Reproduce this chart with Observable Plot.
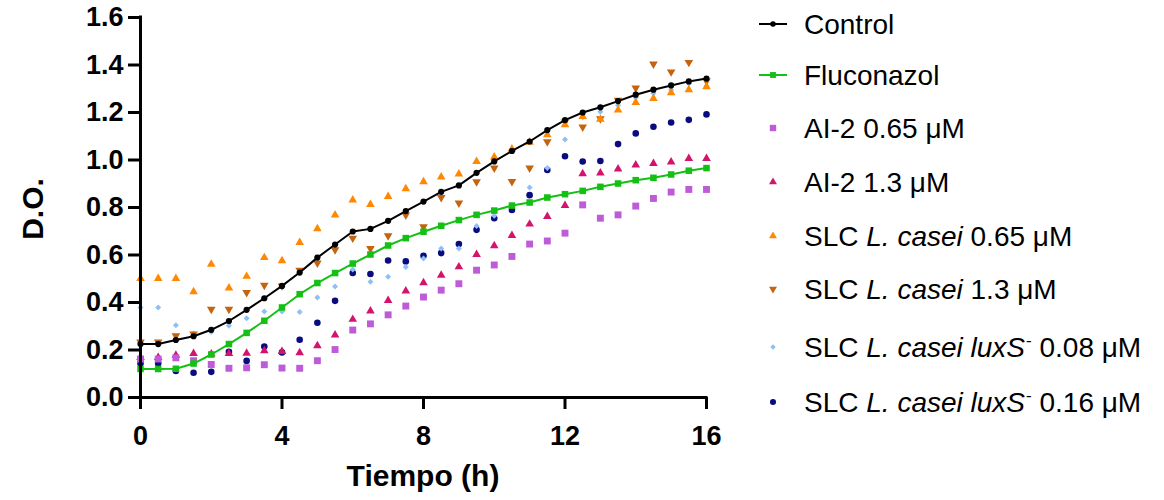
<!DOCTYPE html>
<html><head><meta charset="utf-8">
<script src="https://cdn.jsdelivr.net/npm/d3@7"></script>
<script src="https://cdn.jsdelivr.net/npm/@observablehq/plot@0.6"></script>
<style>
body{margin:0;background:#fff}
#chart{position:relative;width:1164px;height:500px}
</style>
</head><body><div id="chart"></div>
<script>
// ---- data ----
const tiempo = [0,0.5,1,1.5,2,2.5,3,3.5,4,4.5,5,5.5,6,6.5,7,7.5,8,8.5,9,9.5,10,10.5,11,11.5,12,12.5,13,13.5,14,14.5,15,15.5,16];
const control = [0.225,0.225,0.242,0.258,0.285,0.322,0.369,0.418,0.470,0.526,0.589,0.644,0.699,0.710,0.744,0.785,0.825,0.866,0.893,0.946,0.994,1.038,1.078,1.126,1.168,1.200,1.222,1.248,1.275,1.296,1.314,1.331,1.343];
const fluconazol = [0.120,0.120,0.121,0.143,0.181,0.225,0.272,0.323,0.379,0.435,0.482,0.524,0.564,0.602,0.640,0.671,0.698,0.723,0.747,0.769,0.787,0.808,0.821,0.842,0.856,0.870,0.887,0.901,0.915,0.925,0.939,0.955,0.966];
const ai2_065 = [0.162,0.162,0.167,0.155,0.139,0.123,0.125,0.138,0.124,0.123,0.155,0.202,0.284,0.310,0.348,0.385,0.423,0.452,0.479,0.536,0.558,0.594,0.646,0.659,0.692,0.811,0.755,0.769,0.806,0.838,0.865,0.876,0.876];
const ai2_13 = [0.168,0.168,0.178,0.185,0.183,0.185,0.186,0.197,0.194,0.188,0.218,0.263,0.329,0.364,0.408,0.448,0.483,0.515,0.550,0.602,0.639,0.682,0.730,0.762,0.808,0.942,0.945,0.962,0.979,0.985,0.992,1.006,1.006];
const slc_065 = [0.501,0.501,0.501,0.445,0.561,0.461,0.510,0.589,0.576,0.653,0.711,0.768,0.832,0.813,0.846,0.879,0.908,0.928,0.941,0.994,1.013,1.046,1.075,1.106,1.148,1.183,1.172,1.210,1.242,1.259,1.283,1.296,1.308];
const slc_13 = [0.234,0.234,0.260,0.267,0.372,0.372,0.442,0.473,0.470,0.536,0.566,0.622,0.671,0.627,0.681,0.768,0.719,0.842,0.819,0.908,0.966,0.909,0.966,1.077,1.160,1.139,1.174,1.252,1.303,1.404,1.371,1.411,1.333];
const lux_008 = [0.379,0.379,0.304,0.270,0.276,0.302,0.334,0.362,0.362,0.360,0.421,0.467,0.539,0.487,0.508,0.549,0.585,0.627,0.627,0.722,0.765,0.811,0.884,0.966,1.086,1.180,1.203,1.231,1.263,1.281,1.295,1.322,1.312];
const lux_016 = [0.143,0.143,0.112,0.104,0.108,0.192,0.154,0.215,0.190,0.243,0.315,0.407,0.524,0.520,0.577,0.573,0.597,0.608,0.646,0.706,0.755,0.790,0.852,0.958,1.016,0.994,0.996,1.067,1.112,1.140,1.158,1.169,1.192];
const xTicks = [0,4,8,12,16];
const yTicks = [0,0.2,0.4,0.6,0.8,1.0,1.2,1.4,1.6];
const xTitle = "Tiempo (h)";
const yTitle = "D.O.";

// ---- style ----
const FONT = "'Liberation Sans', Arial, Helvetica, sans-serif";
const sqrt3 = Math.sqrt(3);
const triangleDown = {
  draw(ctx, size) {
    const y = -Math.sqrt(size / (sqrt3 * 3));
    ctx.moveTo(0, -y * 2);
    ctx.lineTo(-sqrt3 * y, y);
    ctx.lineTo(sqrt3 * y, y);
    ctx.closePath();
  }
};
const triangleUp = {
  draw(ctx, size) {
    const y = -Math.sqrt(size / (sqrt3 * 3));
    ctx.moveTo(0, y * 2);
    ctx.lineTo(-sqrt3 * y, -y);
    ctx.lineTo(sqrt3 * y, -y);
    ctx.closePath();
  }
};

// legend / drawing definitions (listed in legend order)
const series = [
  {label: [["Control"]], values: control, color: "#000000", symbol: "circle", r: 3.1, line: true},
  {label: [["Fluconazol"]], values: fluconazol, color: "#14C014", symbol: "square", r: 3.7, line: true},
  {label: [["AI-2 0.65 μM"]], values: ai2_065, color: "#BE5BD8", symbol: "square", r: 3.9},
  {label: [["AI-2 1.3 μM"]], values: ai2_13, color: "#D4146C", symbol: triangleUp, r: 3.2},
  {label: [["SLC "], ["L. casei", "i"], [" 0.65 μM"]], values: slc_065, color: "#FF8800", symbol: triangleUp, r: 3.2},
  {label: [["SLC "], ["L. casei", "i"], [" 1.3 μM"]], values: slc_13, color: "#C46410", symbol: triangleDown, r: 3.2},
  {label: [["SLC "], ["L. casei luxS", "i"], ["-", "sup"], [" 0.08 μM"]], values: lux_008, color: "#8EC0F7", symbol: "diamond2", r: 2.7},
  {label: [["SLC "], ["L. casei luxS", "i"], ["-", "sup"], [" 0.16 μM"]], values: lux_016, color: "#0B0B80", symbol: "circle", r: 3.3}
];

const rows = s => tiempo.map((t, i) => ({t, v: s.values[i]}));

const marks = [];
// drawn in reverse legend order so that the first series sits on top
for (const s of series.slice().reverse()) {
  const data = rows(s);
  if (s.line) marks.push(Plot.line(data, {x: "t", y: "v", stroke: s.color, strokeWidth: 2}));
  marks.push(Plot.dot(data, {x: "t", y: "v", symbol: () => s.symbol, fill: s.color, stroke: "none", r: s.r}));
}

const chart = Plot.plot({
  width: 1164,
  height: 500,
  marginLeft: 140,
  marginRight: 458,
  marginTop: 17,
  marginBottom: 103,
  style: {fontFamily: FONT, background: "#fff", color: "#000"},
  x: {domain: [0, 16]},
  y: {domain: [0, 1.6]},
  symbol: {type: "identity"},
  marks: [
    ...marks,
    Plot.axisX({ticks: xTicks, tickSize: 12, tickPadding: 16, fontSize: 27, fontWeight: "bold", strokeWidth: 3, label: null, tickFormat: d => String(d)}),
    Plot.axisY({ticks: yTicks, tickSize: 12, tickPadding: 5, fontSize: 27, fontWeight: "bold", strokeWidth: 3, label: null, tickFormat: d => d.toFixed(1)}),
    Plot.ruleX([0], {y1: 0, y2: 1.6, strokeWidth: 3, strokeLinecap: "square"}),
    Plot.ruleY([0], {x1: 0, x2: 16, strokeWidth: 3, strokeLinecap: "square"})
  ]
});
document.getElementById("chart").appendChild(chart);

// ---- titles and legend ----
const svg = d3.select(chart);
svg.append("text").attr("x", 423).attr("y", 486).attr("text-anchor", "middle")
  .attr("font-family", FONT).attr("font-size", 30).attr("font-weight", "bold").text(xTitle);
svg.append("text").attr("transform", "translate(43,209) rotate(-90)").attr("text-anchor", "middle")
  .attr("font-family", FONT).attr("font-size", 30).attr("font-weight", "bold").text(yTitle);

const legendY = [24, 75, 128, 182, 236, 289, 347, 402];
const lg = svg.append("g").attr("text-anchor", "start");
series.forEach((s, i) => {
  const y = legendY[i];
  const sym = typeof s.symbol === "string" ? {circle: d3.symbolCircle, square: d3.symbolSquare, diamond2: d3.symbolDiamond2}[s.symbol] : s.symbol;
  if (s.line) lg.append("line").attr("x1", 759).attr("x2", 787).attr("y1", y).attr("y2", y).attr("stroke", s.color).attr("stroke-width", 2);
  lg.append("path").attr("transform", `translate(773,${y})`)
    .attr("d", d3.symbol(sym, Math.PI * s.r * s.r * (s.line ? 0.8 : 0.85))()).attr("fill", s.color);
  const t = lg.append("text").attr("x", 804).attr("y", y + 10).attr("text-anchor", "start")
    .attr("font-family", FONT).attr("font-size", 28).attr("fill", "#000");
  let prevSup = false;
  for (const [txt, kind] of s.label) {
    const ts = t.append("tspan").text(txt);
    if (kind === "i") ts.attr("font-style", "italic");
    if (prevSup) ts.attr("dy", 11);
    prevSup = false;
    if (kind === "sup") { ts.attr("font-size", 17).attr("dy", -11).attr("dx", 1); prevSup = true; }
  }
});
</script>
</body></html>
